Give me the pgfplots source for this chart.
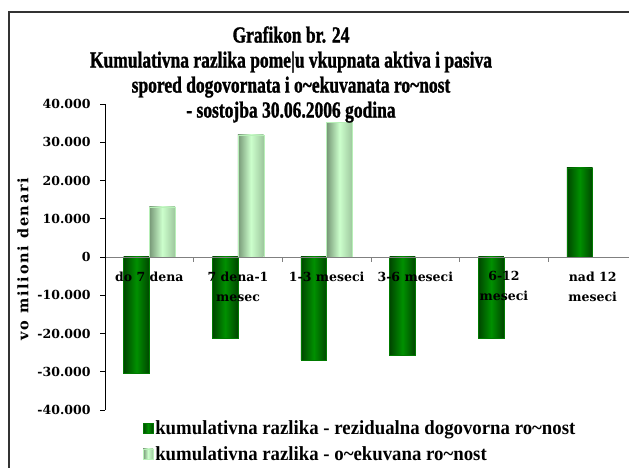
\documentclass[border=0pt]{standalone}
\usepackage{fontspec}
\setmainfont{Liberation Serif}
\newfontfamily\condf{Liberation Serif}[FakeStretch=0.76,FakeBold=1.2]
\newfontfamily\legf{Liberation Serif}[FakeStretch=0.94]
\newfontfamily\tickf{DejaVu Serif}
\newfontfamily\labf{DejaVu Serif}[LetterSpace=12]
\usepackage{pgfplots}
\pgfplotsset{compat=1.18}

\definecolor{framec}{HTML}{333333}
\definecolor{dkedge}{HTML}{004600}
\definecolor{dkmid}{HTML}{009000}
\definecolor{dkline}{HTML}{007A00}
\definecolor{ltedge}{HTML}{779877}
\definecolor{ltmid}{HTML}{CCFFCC}
\definecolor{ltline}{HTML}{B8F0B8}

\pgfplotsset{
  dkbar/.style={ybar, bar width=0.29, bar shift=-0.145, draw=dkline,
    left color=dkedge, right color=dkedge, middle color=dkmid},
  ltbar/.style={ybar, bar width=0.29, bar shift=0.145, draw=ltline,
    left color=ltedge, right color=ltedge!55!ltmid, middle color=ltmid},
}

\begin{document}
\begin{tikzpicture}[x=1pt,y=1pt]
\useasboundingbox (0,0) rectangle (629,468);
\fill[white] (0,0) rectangle (629,468);
\draw[framec, line width=2pt] (650,456) -- (9,456) -- (9,-20);

\begin{axis}[
  at={(105pt,58pt)}, anchor=south west,
  scale only axis, width=524pt, height=306pt,
  xmin=-0.5, xmax=5.41, ymin=-40000, ymax=40000,
  axis on top,
  axis x line=middle, axis y line=left,
  axis line style={-},
  x axis line style={black!50, line width=0.8pt},
  y axis line style={black, line width=0.8pt},
  hide obscured x ticks=false, hide obscured y ticks=false,
  scaled y ticks=false,
  xtick={0,1,2,3,4,5},
  xticklabels={do 7 dena, {7 dena-1\\mesec}, 1-3 meseci, 3-6 meseci, {6-12\\meseci}, {nad 12\\meseci}},
  major x tick style={draw=none},
  minor xtick={0.5,1.5,2.5,3.5,4.5},
  minor x tick style={black!50, line width=0.8pt},
  minor tick length=5pt,
  major tick length=5pt,
  tick align=outside,
  ytick={-40000,-30000,-20000,-10000,0,10000,20000,30000,40000},
  yticklabels={-40.000,-30.000,-20.000,-10.000,0,10.000,20.000,30.000,40.000},
  y tick style={black, line width=0.8pt},
  x tick label style={font=\tickf\bfseries\fontsize{12.5}{20}\selectfont, align=center, yshift=-6pt},
  y tick label style={font=\tickf\bfseries\fontsize{12.5}{15}\selectfont, xshift=-6pt},
  legend style={at={(0.07,-0.025)}, anchor=north west, draw=none, fill=none,
    font=\legf\bfseries\fontsize{20}{21}\selectfont, row sep=6pt,
    legend cell align=left, inner sep=1pt},
  legend image code/.code={\draw[#1] (0pt,-5pt) rectangle (10pt,5pt);},
]
\addplot[dkbar] coordinates {(0,-30300)};
\addlegendentry{kumulativna razlika - rezidualna dogovorna ro\textasciitilde nost}
\addplot[ltbar] coordinates {(0,13100)};
\addlegendentry{kumulativna razlika - o\textasciitilde ekuvana ro\textasciitilde nost}
\addplot[dkbar, forget plot] coordinates {(1,-21200)};
\addplot[dkbar, forget plot] coordinates {(2,-26900)};
\addplot[dkbar, forget plot] coordinates {(3,-25800)};
\addplot[dkbar, forget plot] coordinates {(4,-21200)};
\addplot[dkbar, forget plot] coordinates {(5,23300)};
\addplot[ltbar, forget plot] coordinates {(1,31900)};
\addplot[ltbar, forget plot] coordinates {(2,35200)};
\end{axis}

\node[rotate=90, font=\labf\bfseries\fontsize{14.5}{16}\selectfont] at (23,209) {vo milioni denari};
\node[align=center, font=\condf\bfseries\fontsize{23}{25}\selectfont] at (291,393.5)
  {Grafikon br. 24\\Kumulativna razlika pome|u vkupnata aktiva i pasiva\\spored dogovornata i o\textasciitilde ekuvanata ro\textasciitilde nost\\- sostojba 30.06.2006 godina};
\end{tikzpicture}
\end{document}
